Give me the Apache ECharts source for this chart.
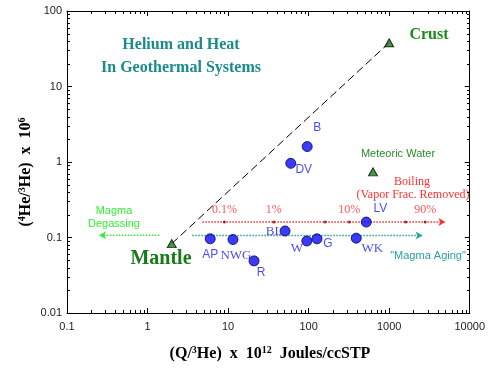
<!DOCTYPE html>
<html><head><meta charset="utf-8">
<script src="https://cdn.jsdelivr.net/npm/echarts@6/dist/echarts.min.js"></script>
<style>html,body{margin:0;padding:0;background:#fff}#c{width:488px;height:374px}</style>
</head><body><div id="c"></div>
<script>
// ---- data ----
const siteNames = ['B','DV','LV','BL','AP','NWG','R','W','G','WK'];
const siteQ     = [96, 60, 520, 51, 6.0, 11.5, 21, 95, 127, 390];
const siteHe    = [1.6, 0.96, 0.16, 0.122, 0.096, 0.094, 0.049, 0.09, 0.096, 0.098];
const endNames  = ['Mantle','Crust'];
const endQ      = [2, 1000];
const endHe     = [0.083, 38];
const meteoricQ  = [630];
const meteoricHe = [0.74];
const boilQ      = [9, 37, 160, 320, 1600, 2800];
const boilPct    = ['0.1%','1%','','10%','','90%'];
const boilHe     = 0.16;
const boilRange  = [4.8, 5000];
const agingHe    = 0.106;
const agingRange = [3.6, 2600];
const degasHe    = 0.107;
const degasRange = [1.4, 0.25];
const xTickLabels = ['0.1','1','10','100','1000','10000'];
const yTickLabels = ['0.01','0.1','1','10','100'];

// ---- layout (label offsets / fonts) ----
const siteLabelOffset = {B:[10,-19],DV:[13,6],LV:[14,-13],BL:[-11,1],AP:[0,16],NWG:[3,16],R:[7,12],W:[-10,8],G:[11,5],WK:[16,10]};
const serifLabels = {NWG:1,BL:1,W:1,WK:1};

const xMin = +xTickLabels[0], xMax = +xTickLabels[xTickLabels.length-1];
const yMin = +yTickLabels[0], yMax = +yTickLabels[yTickLabels.length-1];
const xMinor = [], yMinor = [];
for (let e = Math.log10(xMin); e < Math.log10(xMax); e++) for (let m = 2; m <= 9; m++) xMinor.push([m*Math.pow(10,e), yMin]);
for (let e = Math.log10(yMin); e < Math.log10(yMax); e++) for (let m = 2; m <= 9; m++) yMinor.push([xMin, m*Math.pow(10,e)]);

const serif = '"Liberation Serif","Times New Roman",serif';
const sans = '"Liberation Sans",Arial,sans-serif';

const chart = echarts.init(document.getElementById('c'));
const axisCommon = {
  type:'log', logBase:10,
  axisLine:{show:true,lineStyle:{color:'#000',width:1}},
  axisTick:{show:true,inside:true,length:5,lineStyle:{color:'#000'}},
  splitLine:{show:false},
  minorTick:{show:false}
};
function tickLine(p1,p2){return {type:'line',shape:{x1:Math.round(p1[0])+0.5,y1:Math.round(p1[1]),x2:Math.round(p2[0])+0.5,y2:Math.round(p2[1])},style:{stroke:'#000',lineWidth:1}};}
function tickLineH(p1,p2){return {type:'line',shape:{x1:Math.round(p1[0]),y1:Math.round(p1[1])+0.5,x2:Math.round(p2[0]),y2:Math.round(p2[1])+0.5},style:{stroke:'#000',lineWidth:1}};}

chart.setOption({
  animation:false,
  grid:{left:67,right:15,top:11,bottom:61,containLabel:false},
  xAxis:[
    Object.assign({}, axisCommon, {position:'bottom', min:xMin, max:xMax,
      axisLabel:{show:true,margin:8,color:'#222',fontFamily:sans,fontSize:11,formatter:v=>xTickLabels.find(t=>Math.abs(+t-v)<v*1e-6)||''}}),
    Object.assign({}, axisCommon, {position:'top', min:xMin, max:xMax, axisLabel:{show:false}})
  ],
  yAxis:[
    Object.assign({}, axisCommon, {position:'left', min:yMin, max:yMax,
      axisLabel:{show:true,margin:5,color:'#222',fontFamily:sans,fontSize:11,formatter:v=>yTickLabels.find(t=>Math.abs(+t-v)<v*1e-6)||''}}),
    Object.assign({}, axisCommon, {position:'right', min:yMin, max:yMax, axisLabel:{show:false}})
  ],
  graphic:[
    {type:'text',x:181,y:45,style:{text:'Helium and Heat',font:'bold 16px '+serif,fill:'#1a8a8a',align:'center',verticalAlign:'middle'}},
    {type:'text',x:181,y:68,style:{text:'In Geothermal Systems',font:'bold 16px '+serif,fill:'#1a8a8a',align:'center',verticalAlign:'middle'}},
    {type:'text',x:429,y:35,style:{text:'Crust',font:'bold 16px '+serif,fill:'#1a8a1a',align:'center',verticalAlign:'middle'}},
    {type:'text',x:161,y:259,style:{text:'Mantle',font:'bold 20px '+serif,fill:'#1a7a1a',align:'center',verticalAlign:'middle'}},
    {type:'text',x:398,y:154,style:{text:'Meteoric Water',font:'11px '+sans,fill:'#2a8a2a',align:'center',verticalAlign:'middle'}},
    {type:'text',x:412,y:182,style:{text:'Boiling',font:'12px '+serif,fill:'#ff3030',align:'center',verticalAlign:'middle'}},
    {type:'text',x:413,y:195,style:{text:'(Vapor Frac. Removed)',font:'12px '+serif,fill:'#ff3030',align:'center',verticalAlign:'middle'}},
    {type:'text',x:114,y:211,style:{text:'Magma',font:'11px '+sans,fill:'#33ee33',align:'center',verticalAlign:'middle'}},
    {type:'text',x:114,y:224,style:{text:'Degassing',font:'11px '+sans,fill:'#33ee33',align:'center',verticalAlign:'middle'}},
    {type:'text',x:428,y:256,style:{text:'"Magma Aging"',font:'11px '+sans,fill:'#2aa0a0',align:'center',verticalAlign:'middle'}},
    {type:'text',x:270,y:354,style:{text:'{b|(Q/}{s|3}{b|He)  x  10}{s|12}{b|  Joules/ccSTP}',align:'center',verticalAlign:'middle',
      rich:{b:{font:'bold 16px '+serif,fill:'#000'},s:{font:'bold 10px '+serif,fill:'#000',verticalAlign:'top',padding:[0,0,8,0]}}}},
    {type:'text',x:26,y:172,rotation:Math.PI/2,style:{text:'{b|(}{s|4}{b|He/}{s|3}{b|He)  x  10}{s|6}',align:'center',verticalAlign:'middle',
      rich:{b:{font:'bold 16px '+serif,fill:'#000'},s:{font:'bold 10px '+serif,fill:'#000',padding:[0,0,8,0]}}}}
  ],
  series:[
    {type:'line',data:endQ.map((q,i)=>[q,endHe[i]]),symbol:'none',lineStyle:{color:'#000',width:1,type:[8,4]},z:2},
    {type:'line',data:[{value:[boilRange[0],boilHe],symbol:'none'},{value:[boilRange[1],boilHe],symbol:'arrow',symbolRotate:-90,symbolSize:[6,7]}],
      showSymbol:true,itemStyle:{color:'#ff3030'},lineStyle:{color:'#ff3030',width:1.5,type:'dotted'},z:2},
    {type:'line',data:[{value:[agingRange[0],agingHe],symbol:'none'},{value:[agingRange[1],agingHe],symbol:'arrow',symbolRotate:-90,symbolSize:[6,7]}],
      showSymbol:true,itemStyle:{color:'#2aa0a0'},lineStyle:{color:'#2aa0a0',width:1.5,type:'dotted'},z:2},
    {type:'line',data:[{value:[degasRange[0],degasHe],symbol:'none'},{value:[degasRange[1],degasHe],symbol:'arrow',symbolRotate:90,symbolSize:[6,7]}],
      showSymbol:true,itemStyle:{color:'#33ee33'},lineStyle:{color:'#33ee33',width:1.5,type:'dotted'},z:2},
    {type:'scatter',data:boilQ.map((q,i)=>({value:[q,boilHe],name:boilPct[i]})),symbol:'circle',symbolSize:3,itemStyle:{color:'#900000'},z:3,
      label:{show:true,position:'inside',offset:[0,-12],formatter:p=>p.name,fontFamily:serif,fontSize:12,color:'#ff3030'}},
    {type:'scatter',data:siteQ.map((q,i)=>({value:[q,siteHe[i]],name:siteNames[i],
        label:{offset:siteLabelOffset[siteNames[i]],fontFamily:serifLabels[siteNames[i]]?serif:sans,fontSize:serifLabels[siteNames[i]]?13:12}})),
      symbol:'circle',symbolSize:10,itemStyle:{color:'#0a0aff',borderColor:'#00004a',borderWidth:1},z:5,
      label:{show:true,position:'inside',formatter:p=>p.name,color:'#1a1aee'}},
    {type:'scatter',data:endQ.map((q,i)=>({value:[q,endHe[i]],name:endNames[i]})).concat(meteoricQ.map((q,i)=>({value:[q,meteoricHe[i]],name:'Meteoric Water'}))),
      symbol:'triangle',symbolSize:[9,8],itemStyle:{color:'#1a7a1a',borderColor:'#000',borderWidth:1},z:5},
    {type:'custom',data:xMinor,clip:false,z:6,silent:true,renderItem:(p,api)=>{
      const b=api.coord([api.value(0),yMin]), t=api.coord([api.value(0),yMax]);
      return {type:'group',children:[tickLine(b,[b[0],b[1]-3]),tickLine(t,[t[0],t[1]+3])]};}},
    {type:'custom',data:yMinor,clip:false,z:6,silent:true,renderItem:(p,api)=>{
      const l=api.coord([xMin,api.value(1)]), r=api.coord([xMax,api.value(1)]);
      return {type:'group',children:[tickLineH(l,[l[0]+3,l[1]]),tickLineH(r,[r[0]-3,r[1]])]};}}
  ]
});
</script></body></html>
